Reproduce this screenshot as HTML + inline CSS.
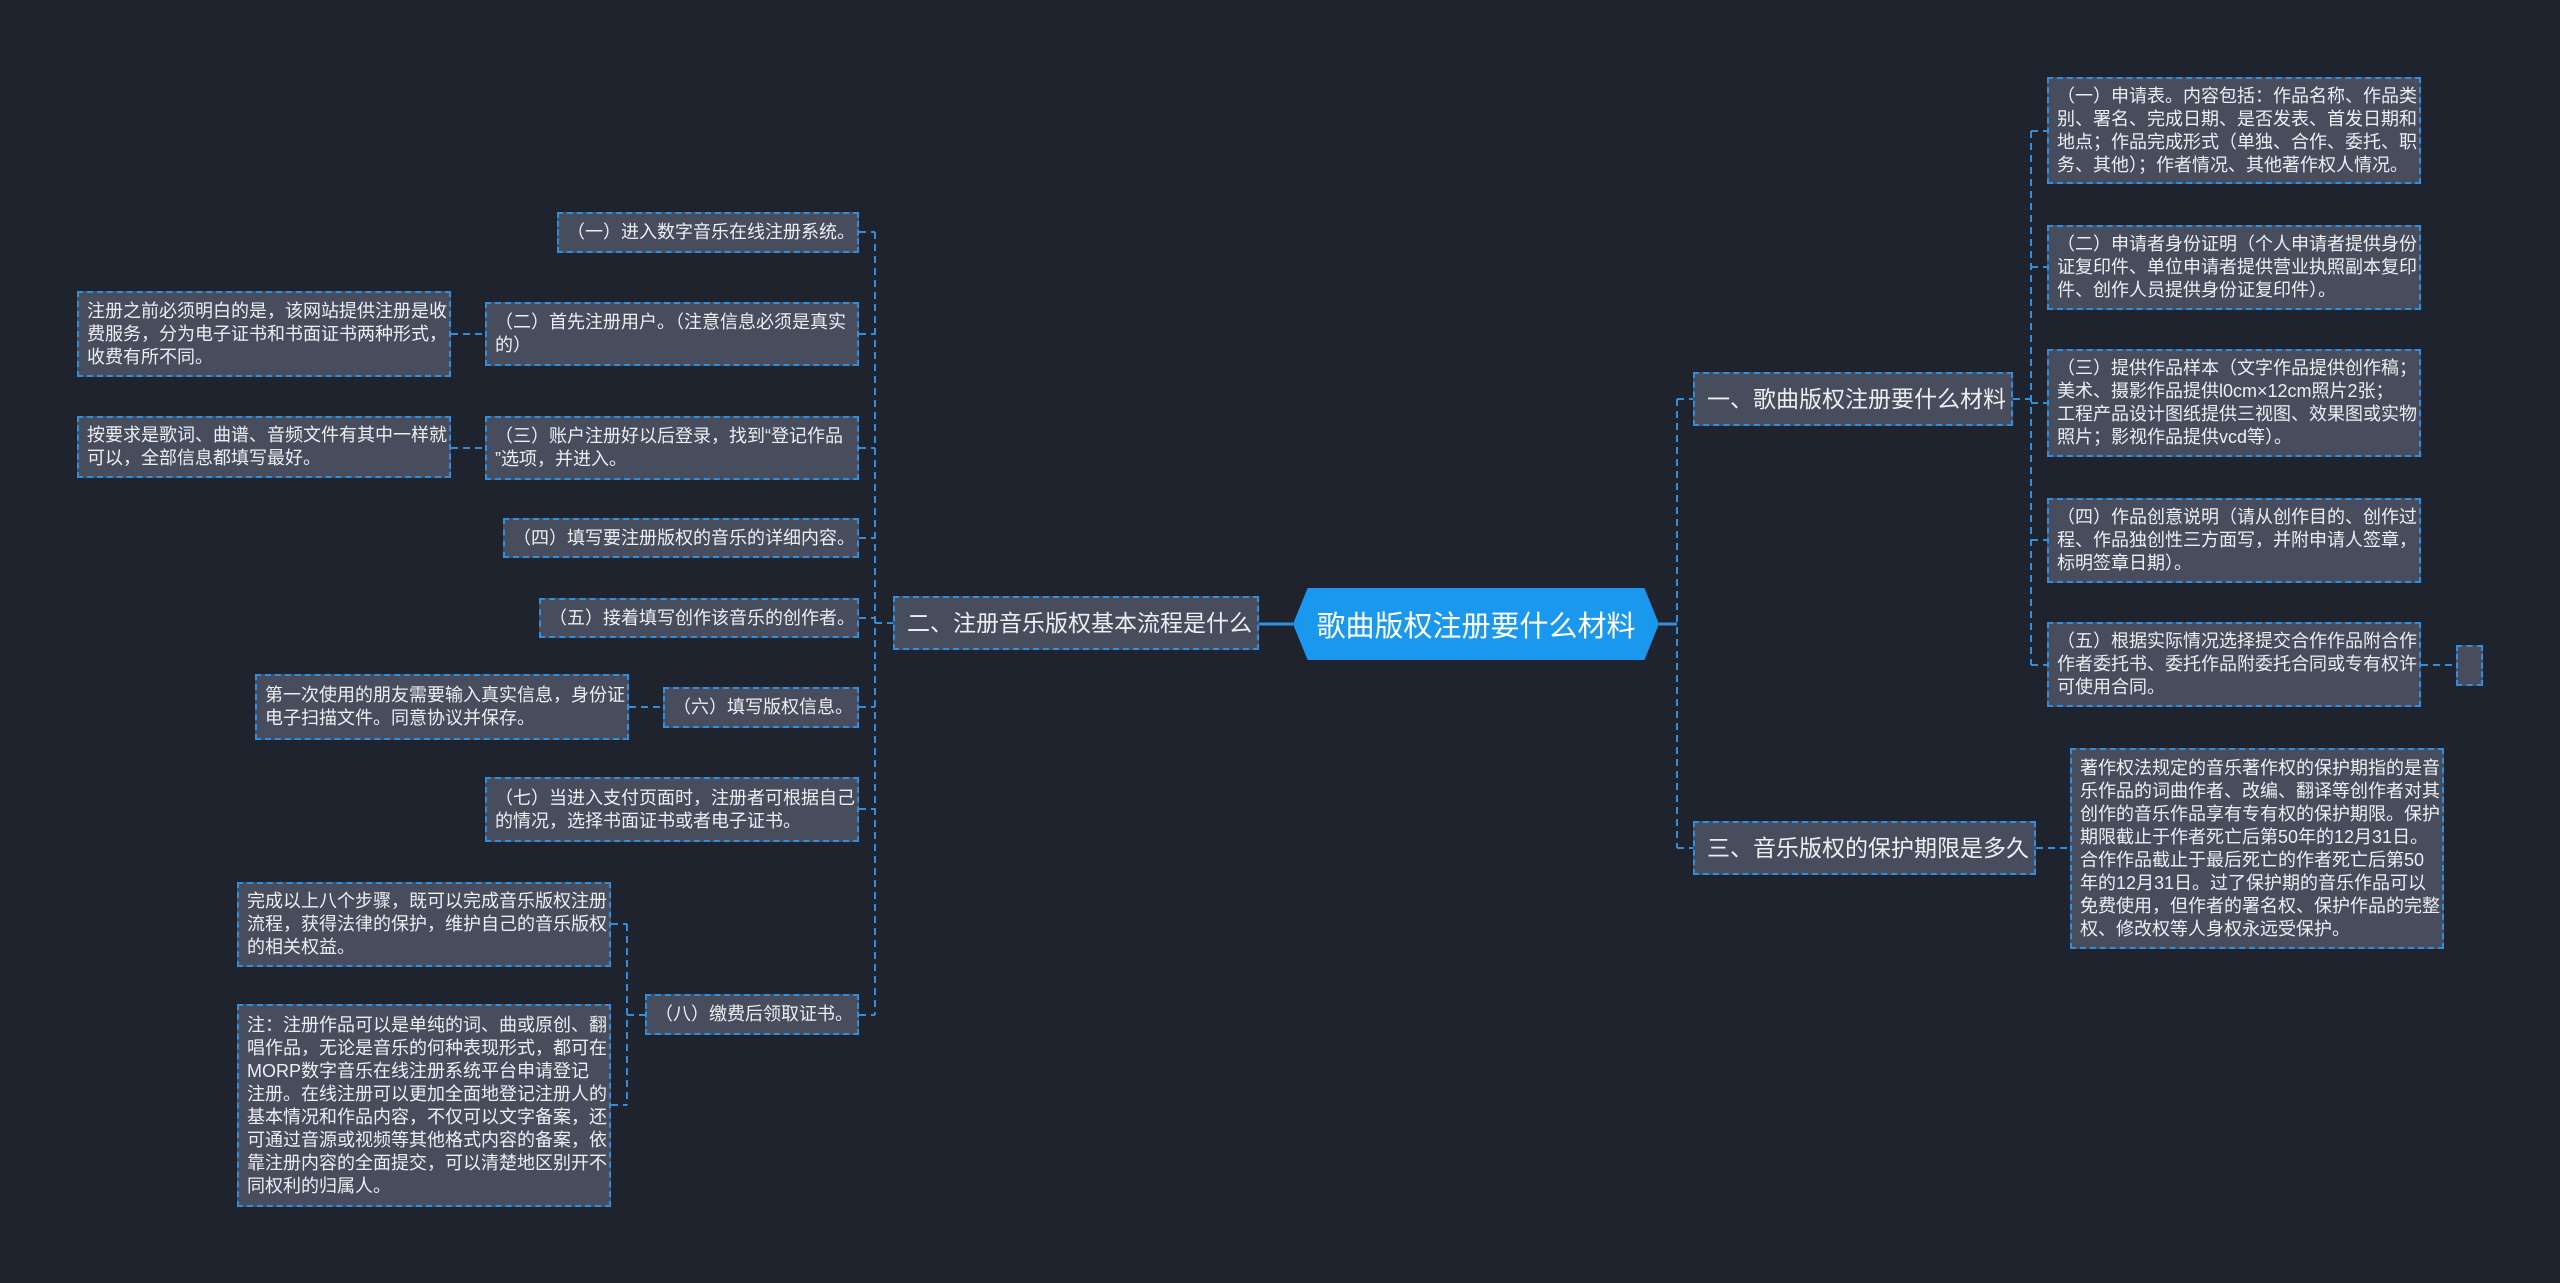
<!DOCTYPE html>
<html><head><meta charset="utf-8">
<style>
html,body{margin:0;padding:0}
body{width:2560px;height:1283px;background:#1f232e;position:relative;overflow:hidden;font-family:"Liberation Sans","Noto Sans CJK SC",sans-serif;}
.n{position:absolute;box-sizing:border-box;background:#474d5c;border:2px dashed #2e8fe0;color:#eceef2;font-size:18px;line-height:23px;padding:0 8px;display:flex;align-items:center;white-space:nowrap}
.b{font-size:23px;line-height:28px;padding:0 12px}
svg{position:absolute;left:0;top:0}
.c{position:absolute;left:1293px;top:588px;width:366px;height:72px;background:#1a98ee;clip-path:polygon(4% 0,96% 0,100% 50%,96% 100%,4% 100%,0 50%);color:#fff;font-size:29px;display:flex;align-items:center;justify-content:center}
</style></head><body>
<svg width="2560" height="1283">
<g stroke="#2e8fe0" stroke-width="2" fill="none" stroke-dasharray="7 5">
<line x1="875" y1="232" x2="875" y2="1015"/>
<line x1="859" y1="232" x2="875" y2="232"/>
<line x1="859" y1="334" x2="875" y2="334"/>
<line x1="859" y1="448" x2="875" y2="448"/>
<line x1="859" y1="538" x2="875" y2="538"/>
<line x1="859" y1="618" x2="875" y2="618"/>
<line x1="859" y1="707" x2="875" y2="707"/>
<line x1="859" y1="809" x2="875" y2="809"/>
<line x1="859" y1="1015" x2="875" y2="1015"/>
<line x1="875" y1="623" x2="893" y2="623"/>
<line x1="451" y1="334" x2="485" y2="334"/>
<line x1="451" y1="448" x2="485" y2="448"/>
<line x1="629" y1="707" x2="663" y2="707"/>
<line x1="611" y1="924" x2="627" y2="924"/>
<line x1="611" y1="1105" x2="627" y2="1105"/>
<line x1="627" y1="924" x2="627" y2="1105"/>
<line x1="627" y1="1015" x2="645" y2="1015"/>
<line x1="1677" y1="399" x2="1677" y2="848"/>
<line x1="1677" y1="399" x2="1693" y2="399"/>
<line x1="1677" y1="848" x2="1693" y2="848"/>
<line x1="2013" y1="399" x2="2031" y2="399"/>
<line x1="2031" y1="131" x2="2031" y2="665"/>
<line x1="2031" y1="131" x2="2047" y2="131"/>
<line x1="2031" y1="267" x2="2047" y2="267"/>
<line x1="2031" y1="403" x2="2047" y2="403"/>
<line x1="2031" y1="540" x2="2047" y2="540"/>
<line x1="2031" y1="665" x2="2047" y2="665"/>
<line x1="2421" y1="665" x2="2456" y2="665"/>
<line x1="2036" y1="848" x2="2070" y2="848"/>
</g>
<g stroke="#2e8fe0" stroke-width="3">
<line x1="1259" y1="624" x2="1293" y2="624"/>
<line x1="1659" y1="624" x2="1677" y2="624"/>
</g>
</svg>
<div class="c">歌曲版权注册要什么材料</div>
<div class="n b" style="left:893px;top:596px;width:366px;height:54px">二、注册音乐版权基本流程是什么</div>
<div class="n b" style="left:1693px;top:372px;width:320px;height:54px">一、歌曲版权注册要什么材料</div>
<div class="n b" style="left:1693px;top:821px;width:343px;height:54px">三、音乐版权的保护期限是多久</div>

<div class="n" style="left:557px;top:212px;width:302px;height:41px">（一）进入数字音乐在线注册系统。</div>
<div class="n" style="left:485px;top:302px;width:374px;height:64px">（二）首先注册用户。（注意信息必须是真实<br>的）</div>
<div class="n" style="left:485px;top:416px;width:374px;height:64px">（三）账户注册好以后登录，找到“登记作品<br>”选项，并进入。</div>
<div class="n" style="left:503px;top:518px;width:356px;height:40px">（四）填写要注册版权的音乐的详细内容。</div>
<div class="n" style="left:539px;top:598px;width:320px;height:40px">（五）接着填写创作该音乐的创作者。</div>
<div class="n" style="left:663px;top:687px;width:196px;height:41px">（六）填写版权信息。</div>
<div class="n" style="left:485px;top:777px;width:374px;height:65px">（七）当进入支付页面时，注册者可根据自己<br>的情况，选择书面证书或者电子证书。</div>
<div class="n" style="left:645px;top:994px;width:214px;height:41px">（八）缴费后领取证书。</div>

<div class="n" style="left:77px;top:291px;width:374px;height:86px">注册之前必须明白的是，该网站提供注册是收<br>费服务，分为电子证书和书面证书两种形式，<br>收费有所不同。</div>
<div class="n" style="left:77px;top:416px;width:374px;height:62px">按要求是歌词、曲谱、音频文件有其中一样就<br>可以，全部信息都填写最好。</div>
<div class="n" style="left:255px;top:674px;width:374px;height:66px">第一次使用的朋友需要输入真实信息，身份证<br>电子扫描文件。同意协议并保存。</div>
<div class="n" style="left:237px;top:882px;width:374px;height:85px">完成以上八个步骤，既可以完成音乐版权注册<br>流程，获得法律的保护，维护自己的音乐版权<br>的相关权益。</div>
<div class="n" style="left:237px;top:1004px;width:374px;height:203px">注：注册作品可以是单纯的词、曲或原创、翻<br>唱作品，无论是音乐的何种表现形式，都可在<br>MORP数字音乐在线注册系统平台申请登记<br>注册。在线注册可以更加全面地登记注册人的<br>基本情况和作品内容，不仅可以文字备案，还<br>可通过音源或视频等其他格式内容的备案，依<br>靠注册内容的全面提交，可以清楚地区别开不<br>同权利的归属人。</div>

<div class="n" style="left:2047px;top:77px;width:374px;height:107px">（一）申请表。内容包括：作品名称、作品类<br>别、署名、完成日期、是否发表、首发日期和<br>地点；作品完成形式（单独、合作、委托、职<br>务、其他）；作者情况、其他著作权人情况。</div>
<div class="n" style="left:2047px;top:225px;width:374px;height:85px">（二）申请者身份证明（个人申请者提供身份<br>证复印件、单位申请者提供营业执照副本复印<br>件、创作人员提供身份证复印件）。</div>
<div class="n" style="left:2047px;top:349px;width:374px;height:108px">（三）提供作品样本（文字作品提供创作稿；<br>美术、摄影作品提供l0cm×12cm照片2张；<br>工程产品设计图纸提供三视图、效果图或实物<br>照片；影视作品提供vcd等）。</div>
<div class="n" style="left:2047px;top:498px;width:374px;height:85px">（四）作品创意说明（请从创作目的、创作过<br>程、作品独创性三方面写，并附申请人签章，<br>标明签章日期）。</div>
<div class="n" style="left:2047px;top:622px;width:374px;height:85px">（五）根据实际情况选择提交合作作品附合作<br>作者委托书、委托作品附委托合同或专有权许<br>可使用合同。</div>
<div class="n" style="left:2456px;top:645px;width:27px;height:41px"></div>
<div class="n" style="left:2070px;top:748px;width:374px;height:201px">著作权法规定的音乐著作权的保护期指的是音<br>乐作品的词曲作者、改编、翻译等创作者对其<br>创作的音乐作品享有专有权的保护期限。保护<br>期限截止于作者死亡后第50年的12月31日。<br>合作作品截止于最后死亡的作者死亡后第50<br>年的12月31日。过了保护期的音乐作品可以<br>免费使用，但作者的署名权、保护作品的完整<br>权、修改权等人身权永远受保护。</div>
</body></html>
